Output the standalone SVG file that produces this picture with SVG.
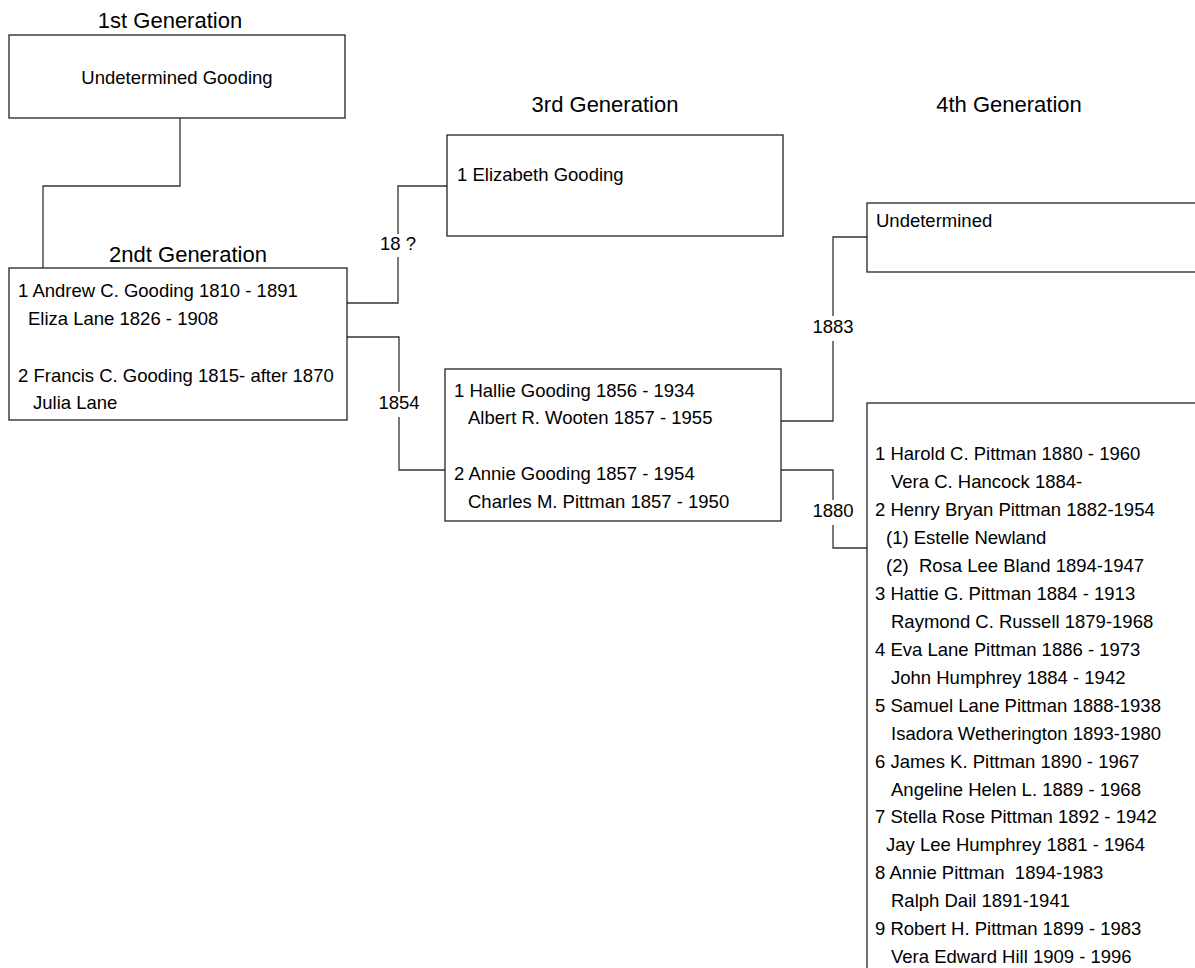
<svg xmlns="http://www.w3.org/2000/svg" width="1195" height="968" viewBox="0 0 1195 968">
<style>
.box{fill:#fff;stroke:#222;stroke-width:1.3}
.con{fill:none;stroke:#333;stroke-width:1.3}
text{font-family:"Liberation Sans",Arial,sans-serif;fill:#000;white-space:pre}
.t{font-size:22px;text-anchor:middle}
.b{font-size:18.5px}
.lbl{font-size:18.5px;text-anchor:middle}
.gap{fill:#fff}
</style>
<rect width="1195" height="968" fill="#fff"/>
<g id="titles">
<text class="t" x="170" y="28">1st Generation</text>
<text class="t" x="188" y="262">2ndt Generation</text>
<text class="t" x="605" y="112">3rd Generation</text>
<text class="t" x="1009" y="112">4th Generation</text>
</g>
<g id="connectors">
<path class="con" d="M180,118 V186 H43 V268"/>
<path class="con" d="M347,303 H398 V186 H447"/>
<path class="con" d="M347,337 H399 V470 H445"/>
<path class="con" d="M781,421 H833 V237 H867"/>
<path class="con" d="M781,470 H833 V548 H867"/>
<rect class="gap" x="380" y="234" width="36" height="23"/>
<text class="lbl" x="398" y="250">18 ?</text>
<rect class="gap" x="378" y="392" width="42" height="25"/>
<text class="lbl" x="399" y="409">1854</text>
<rect class="gap" x="812" y="316" width="42" height="25"/>
<text class="lbl" x="833" y="333">1883</text>
<rect class="gap" x="812" y="500" width="42" height="25"/>
<text class="lbl" x="833" y="517">1880</text>
</g>
<g id="gen1">
<rect class="box" x="9" y="35" width="336" height="83"/>
<text class="b" x="177" y="84" text-anchor="middle">Undetermined Gooding</text>
</g>
<g id="gen2">
<rect class="box" x="9" y="268" width="338" height="152"/>
<text class="b" x="18" y="297">1 Andrew C. Gooding 1810 - 1891</text>
<text class="b" x="28" y="325">Eliza Lane 1826 - 1908</text>
<text class="b" x="18" y="382">2 Francis C. Gooding 1815- after 1870</text>
<text class="b" x="33" y="409">Julia Lane</text>
</g>
<g id="gen3a">
<rect class="box" x="447" y="135" width="336" height="101"/>
<text class="b" x="457" y="181">1 Elizabeth Gooding</text>
</g>
<g id="gen3b">
<rect class="box" x="445" y="369" width="336" height="152"/>
<text class="b" x="454" y="397">1 Hallie Gooding 1856 - 1934</text>
<text class="b" x="468" y="424">Albert R. Wooten 1857 - 1955</text>
<text class="b" x="454" y="480">2 Annie Gooding 1857 - 1954</text>
<text class="b" x="468" y="508">Charles M. Pittman 1857 - 1950</text>
</g>
<g id="gen4a">
<rect class="box" x="867" y="203" width="340" height="69"/>
<text class="b" x="876" y="227">Undetermined</text>
</g>
<g id="gen4b">
<rect class="box" x="867" y="403" width="340" height="580"/>
<text class="b" x="875" y="460">1 Harold C. Pittman 1880 - 1960</text>
<text class="b" x="891" y="488">Vera C. Hancock 1884-</text>
<text class="b" x="875" y="516">2 Henry Bryan Pittman 1882-1954</text>
<text class="b" x="886" y="544">(1) Estelle Newland</text>
<text class="b" x="886" y="572">(2)  Rosa Lee Bland 1894-1947</text>
<text class="b" x="875" y="600">3 Hattie G. Pittman 1884 - 1913</text>
<text class="b" x="891" y="628">Raymond C. Russell 1879-1968</text>
<text class="b" x="875" y="656">4 Eva Lane Pittman 1886 - 1973</text>
<text class="b" x="891" y="684">John Humphrey 1884 - 1942</text>
<text class="b" x="875" y="712">5 Samuel Lane Pittman 1888-1938</text>
<text class="b" x="891" y="740">Isadora Wetherington 1893-1980</text>
<text class="b" x="875" y="768">6 James K. Pittman 1890 - 1967</text>
<text class="b" x="891" y="796">Angeline Helen L. 1889 - 1968</text>
<text class="b" x="875" y="823">7 Stella Rose Pittman 1892 - 1942</text>
<text class="b" x="886" y="851">Jay Lee Humphrey 1881 - 1964</text>
<text class="b" x="875" y="879">8 Annie Pittman  1894-1983</text>
<text class="b" x="891" y="907">Ralph Dail 1891-1941</text>
<text class="b" x="875" y="935">9 Robert H. Pittman 1899 - 1983</text>
<text class="b" x="891" y="963">Vera Edward Hill 1909 - 1996</text>
</g>
</svg>
